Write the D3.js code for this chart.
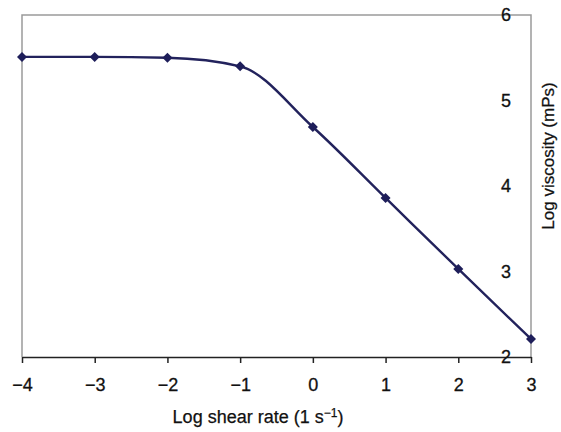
<!DOCTYPE html>
<html><head><meta charset="utf-8">
<script src="https://cdn.jsdelivr.net/npm/d3@7"></script>
<style>body{margin:0;background:#fff}svg{display:block}text{font-family:Arial,"Liberation Sans",sans-serif}</style>
</head><body><svg id="c" width="561" height="432"></svg>
<script>
const shearRate = [-4, -3, -2, -1, 0, 1, 2, 3];
const logViscosity = [5.51, 5.51, 5.50, 5.40, 4.69, 3.86, 3.03, 2.21];
const xTicks = [-4, -3, -2, -1, 0, 1, 2, 3];
const yTicks = [2, 3, 4, 5, 6];

const svg = d3.select("#c");
const L = 22, R = 531, T = 15, B = 357;
const x = d3.scaleLinear().domain([-4, 3]).range([L, R]);
const y = d3.scaleLinear().domain([2, 6]).range([B, T]);

// frame
svg.append("path").attr("d", `M${L},${B}V${T}H${R}V${B}`).attr("fill","none").attr("stroke","#9a9a9a").attr("stroke-width",1.5);

// x axis
const xa = svg.append("g").attr("transform",`translate(0,${B})`).call(d3.axisBottom(x).tickValues(xTicks).tickSize(6).tickSizeOuter(0).tickFormat(d=>d<0?"\u2212"+Math.abs(d):d));
xa.select(".domain").attr("stroke","#222").attr("stroke-width",1.5);
xa.selectAll(".tick line").attr("stroke","#222").attr("stroke-width",1.5);
xa.selectAll(".tick text").attr("font-size",18).attr("fill","#111").attr("stroke","#111").attr("stroke-width",0.3)
  .attr("dy","1.4em").attr("font-family","Arial, 'Liberation Sans', sans-serif");

// y tick labels (placed inside near right border)
svg.append("g").selectAll("text").data(yTicks).join("text")
  .attr("x", 506).attr("y", d=>y(d)).attr("dy","0.36em").attr("text-anchor","middle")
  .attr("font-size",18).attr("fill","#111").attr("stroke","#111").attr("stroke-width",0.3).text(d=>d);

// line
const line = d3.line().x((d,i)=>x(shearRate[i])).y(d=>y(d)).curve(d3.curveMonotoneX);
svg.append("path").datum(logViscosity).attr("d", line).attr("fill","none").attr("stroke","#22225c").attr("stroke-width",2.4);

// markers
svg.append("g").selectAll("path").data(logViscosity).join("path")
  .attr("transform",(d,i)=>`translate(${x(shearRate[i])},${y(d)})`)
  .attr("d", d3.symbol(d3.symbolDiamond2, 64)).attr("fill","#1e1e5a");

// titles
svg.append("text").attr("x",258).attr("y",423).attr("text-anchor","middle").attr("font-size",18).attr("fill","#111").attr("stroke","#111").attr("stroke-width",0.25)
  .html('Log shear rate (1 s<tspan dy="-6" font-size="12">\u22121</tspan><tspan dy="6">)</tspan>');
svg.append("text").attr("transform","translate(554,156) rotate(-90)").attr("text-anchor","middle").attr("font-size",17).attr("fill","#111").attr("stroke","#111").attr("stroke-width",0.25)
  .text("Log viscosity (mPs)");
</script></body></html>
